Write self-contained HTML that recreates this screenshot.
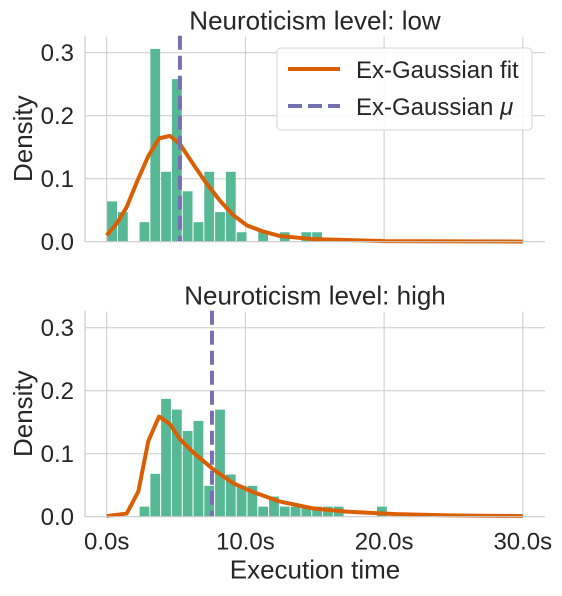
<!DOCTYPE html>
<html><head><meta charset="utf-8"><style>
body{margin:0;background:#fff}
svg text{font-family:"Liberation Sans",sans-serif;fill:#262626}
</style></head><body>
<svg id="c" width="562" height="591" xmlns="http://www.w3.org/2000/svg"></svg>
<script>
const binWidth = 0.778;
const lowCounts = [0.064,0.047,0,0.031,0.306,0.111,0.258,0.080,0.031,0.111,0.047,0.111,0.015,0,0.015,0,0.015,0,0.015,0.015];
const highCounts = [0,0,0,0.016,0.068,0.187,0.170,0.136,0.152,0.049,0.170,0.067,0.049,0.049,0.016,0.032,0.016,0.016,0.016,0.016,0.016,0.016,0,0,0,0.016];
const lowFitX = [0,0.72,1.44,2.16,3.0,3.77,4.56,5.28,6.24,7.21,8.17,9.13,10.1,11.3,12.5,14.9,20,30];
const lowFitY = [0.010,0.029,0.055,0.094,0.136,0.164,0.168,0.155,0.123,0.092,0.065,0.042,0.026,0.016,0.009,0.004,0.001,0.0002];
const highFitX = [0,1.44,2.28,3.0,3.77,4.56,5.28,6.24,7.69,9.13,10.57,12.5,14.9,17.3,20.9,25,30];
const highFitY = [0.001,0.005,0.040,0.120,0.159,0.147,0.123,0.102,0.075,0.053,0.039,0.024,0.013,0.008,0.004,0.002,0.001];
const muLow = 5.28, muHigh = 7.59;
const xTicks = [0,10,20,30];
const xTickLabels = ["0.0s","10.0s","20.0s","30.0s"];
const yTicks = [0,0.1,0.2,0.3];
const yTickLabels = ["0.0","0.1","0.2","0.3"];

const svg = document.getElementById('c');
const NS = 'http://www.w3.org/2000/svg';
function mk(tag, attrs, parent){const e=document.createElementNS(NS,tag);for(const k in attrs)e.setAttribute(k,attrs[k]);(parent||svg).appendChild(e);return e;}
const X0=106.7, XS=13.87;
const xs = v => X0 + v*XS;

function panel(name, base, counts, fx, fy, mu, title, showX, legend){
  const ys = v => base - v*630;
  const g = mk('g',{});
  
  
  xTicks.forEach(t=>{const l=mk('line',{x1:xs(t),x2:xs(t),y1:base-205,y2:base,stroke:'#cccccc','stroke-width':1},g);
    });
  yTicks.forEach((t,i)=>{ if(t>0){const l=mk('line',{x1:85,x2:545,y1:ys(t),y2:ys(t),stroke:'#cccccc','stroke-width':1},g);
    }
    const tx=mk('text',{x:74,y:ys(t)+8.5,'font-size':24,'text-anchor':'end'},g);tx.textContent=yTickLabels[i];
    });
  counts.forEach((v,i)=>{ if(v<=0) return;
    const r=mk('rect',{x:xs(i*binWidth)+0.5,y:ys(v),width:binWidth*XS-1,height:base-ys(v),fill:'#57b895'},g);
    });
  const p=mk('polyline',{points:fx.map((x,i)=>xs(x)+','+ys(fy[i])).join(' '),fill:'none',stroke:'#d95f02','stroke-width':4,'stroke-linejoin':'round'},g);
  
  const m=mk('line',{x1:xs(mu),x2:xs(mu),y1:base-206,y2:base,stroke:'#7570b3','stroke-width':4,'stroke-dasharray':'14,6'},g);
  
  const sp=mk('path',{d:`M85 ${base-206} V${base} H545`,fill:'none',stroke:'#cccccc','stroke-width':1.2},g);
  
  const t=mk('text',{x:315,y:base-212,'font-size':26,'text-anchor':'middle'},g);t.textContent=title;
  
  const yl=mk('text',{x:0,y:0,'font-size':26,'text-anchor':'middle',transform:`translate(32 ${base-103}) rotate(-90)`},g);yl.textContent='Density';
  
  if(showX){
    xTicks.forEach((tk,i)=>{const tx=mk('text',{x:xs(tk),y:base+33,'font-size':24,'text-anchor':'middle'},g);tx.textContent=xTickLabels[i];
      });
    const xl=mk('text',{x:315,y:base+62,'font-size':26,'text-anchor':'middle'},g);xl.textContent='Execution time';
    
  }
  if(legend){
    const lg=mk('g',{},g);
    
    mk('rect',{x:277,y:48,width:255,height:82,rx:4,fill:'#fff','fill-opacity':0.85,stroke:'#d6d6d6'},lg);
    mk('line',{x1:288,x2:340,y1:69,y2:69,stroke:'#d95f02','stroke-width':4},lg);
    const a=mk('text',{x:356,y:78,'font-size':24},lg);a.textContent='Ex-Gaussian fit';
    
    mk('line',{x1:288,x2:340,y1:106,y2:106,stroke:'#7570b3','stroke-width':4,'stroke-dasharray':'14,6'},lg);
    const b=mk('text',{x:356,y:115,'font-size':24},lg);b.innerHTML='Ex-Gaussian <tspan font-style="italic">μ</tspan>';
    
  }
}
panel('panel-low',241.7,lowCounts,lowFitX,lowFitY,muLow,'Neuroticism level: low',false,true);
panel('panel-high',516.7,highCounts,highFitX,highFitY,muHigh,'Neuroticism level: high',true,false);
</script>
</body></html>
